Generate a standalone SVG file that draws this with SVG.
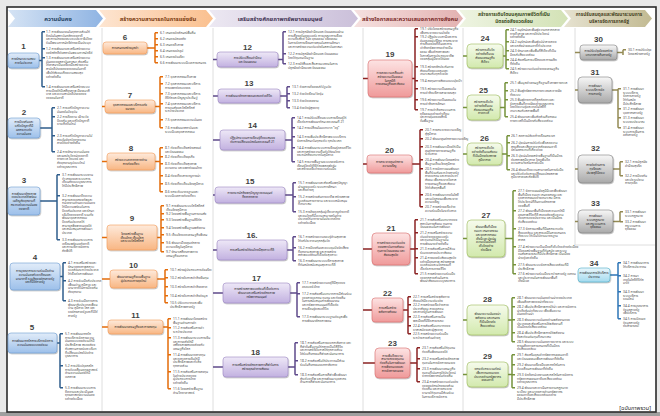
<svg xmlns="http://www.w3.org/2000/svg" width="660" height="416" viewBox="0 0 660 416">
<defs>
<style>
text{font-family:"Noto Sans Thai","Noto Sans","DejaVu Sans","Liberation Sans",sans-serif}
.hd{font-size:5.8px;font-weight:bold;text-anchor:middle}
.hd2{font-size:4.8px;font-weight:bold;text-anchor:middle}
.num{font-family:"Liberation Sans",sans-serif;font-size:8px;font-weight:bold;fill:#3f3f3f;text-anchor:middle}
.nl{font-size:3.2px;fill:#1e1e1e;text-anchor:middle}
.lf{font-size:3.3px;fill:#4d4d4d}
.box{stroke-width:0.6;filter:url(#sh)}
.b1{fill:url(#g1);stroke:#6c9bd2}
.b2{fill:url(#g2);stroke:#f39a57}
.b3{fill:url(#g3);stroke:#9b87c2}
.b4{fill:url(#g4);stroke:#d96b6b}
.b5{fill:url(#g5);stroke:#9bbb59}
.b6{fill:url(#g6);stroke:#7f7f7f}
.b7{fill:url(#g7);stroke:#4bacc6}
.k{fill:none;stroke-width:1.5}
.k1{stroke:#2f5d8c}
.k2{stroke:#e46c0a}
.k3{stroke:#5f4b8b}
.k4{stroke:#8b2323}
.k5{stroke:#76923c}
.k6{stroke:#948a54}
.k7{stroke:#2e75b6}
.sep{stroke:#d6d6d6;stroke-width:0.8;fill:none}
</style>
<filter id="sh" x="-20%" y="-20%" width="140%" height="150%"><feDropShadow dx="0.6" dy="0.9" stdDeviation="0.6" flood-color="#000" flood-opacity="0.3"/></filter>
<linearGradient id="g1" x1="0" y1="0" x2="0" y2="1"><stop offset="0" stop-color="#e1ecf9"/><stop offset="1" stop-color="#9dc0ea"/></linearGradient>
<linearGradient id="g2" x1="0" y1="0" x2="0" y2="1"><stop offset="0" stop-color="#feeadb"/><stop offset="1" stop-color="#f8b683"/></linearGradient>
<linearGradient id="g3" x1="0" y1="0" x2="0" y2="1"><stop offset="0" stop-color="#eee8f7"/><stop offset="1" stop-color="#c2b1e0"/></linearGradient>
<linearGradient id="g4" x1="0" y1="0" x2="0" y2="1"><stop offset="0" stop-color="#fde3e3"/><stop offset="1" stop-color="#ef9a9a"/></linearGradient>
<linearGradient id="g5" x1="0" y1="0" x2="0" y2="1"><stop offset="0" stop-color="#f6fbec"/><stop offset="1" stop-color="#d2e9ad"/></linearGradient>
<linearGradient id="g6" x1="0" y1="0" x2="0" y2="1"><stop offset="0" stop-color="#f7f7f7"/><stop offset="1" stop-color="#a9a9a9"/></linearGradient>
<linearGradient id="g7" x1="0" y1="0" x2="0" y2="1"><stop offset="0" stop-color="#eaf7fc"/><stop offset="1" stop-color="#a3daee"/></linearGradient>
<linearGradient id="h1" x1="0" y1="0" x2="1" y2="0"><stop offset="0" stop-color="#d5e3f4"/><stop offset="1" stop-color="#8fb4e3"/></linearGradient>
<linearGradient id="h2" x1="0" y1="0" x2="1" y2="0"><stop offset="0" stop-color="#fde5d1"/><stop offset="1" stop-color="#fac08f"/></linearGradient>
<linearGradient id="h3" x1="0" y1="0" x2="1" y2="0"><stop offset="0" stop-color="#ece8f2"/><stop offset="1" stop-color="#cbc0da"/></linearGradient>
<linearGradient id="h4" x1="0" y1="0" x2="1" y2="0"><stop offset="0" stop-color="#f5e0df"/><stop offset="1" stop-color="#e3b2b1"/></linearGradient>
<linearGradient id="h5" x1="0" y1="0" x2="1" y2="0"><stop offset="0" stop-color="#eef4e2"/><stop offset="1" stop-color="#d3e2b6"/></linearGradient>
<linearGradient id="h6" x1="0" y1="0" x2="1" y2="0"><stop offset="0" stop-color="#e6e2d0"/><stop offset="1" stop-color="#c2ba92"/></linearGradient>
</defs>

<rect x="0" y="0" width="660" height="416" fill="#e9e9e9"/>
<rect x="0" y="412" width="660" height="4" fill="#9f9f9f"/>
<rect x="7" y="7" width="649" height="405" fill="#ffffff" stroke="#2b2b2b" stroke-width="1.6"/>

<g id="headers">
<polygon points="8,10 96,10 103,18.5 96,27 8,27 15,18.5" fill="url(#h1)"/>
<polygon points="99,10 206,10 213,18.5 206,27 99,27 106,18.5" fill="url(#h2)"/>
<polygon points="209,10 351,10 358,18.5 351,27 209,27 216,18.5" fill="url(#h3)"/>
<polygon points="354,10 456,10 463,18.5 456,27 354,27 361,18.5" fill="url(#h4)"/>
<polygon points="459,10 561,10 568,18.5 561,27 459,27 466,18.5" fill="url(#h5)"/>
<polygon points="564,10 645,10 652,18.5 645,27 564,27 571,18.5" fill="url(#h6)"/>
<text class="hd" x="58" y="20.5" fill="#243f60">ความมั่นคง</text>
<text class="hd" x="158" y="20.5" fill="#7a3b10">สร้างความสามารถในการแข่งขัน</text>
<text class="hd" x="280" y="20.5" fill="#403152">เสริมสร้างศักยภาพทรัพยากรมนุษย์</text>
<text class="hd" x="410" y="20.5" fill="#7b2c2a">สร้างโอกาสและความเสมอภาคทางสังคม</text>
<text class="hd2" x="514" y="16.3" fill="#3c4d1f">สร้างการเติบโตบนคุณภาพชีวิตที่เป็น<tspan x="514" dy="7">มิตรต่อสิ่งแวดล้อม</tspan></text>
<text class="hd2" x="609" y="16.3" fill="#4a4526">การปรับสมดุลและพัฒนาระบบการ<tspan x="609" dy="7">บริหารจัดการภาครัฐ</tspan></text>
</g>

<g id="separators">
<path class="sep" d="M102 28V411 M213 28V411 M363 28V411 M463 28V411 M575 28V245H655"/>
</g>

<g id="connectors">
<path class="k k1" d="M39 60.5H42 M42 31.8V86.8 M42 31.8h3 M42 48.8h3 M42 57.8h3 M42 86.8h3"/>
<path class="k k1" d="M40 128H52 M52 107.8V151.8 M52 107.8h3 M52 116.8h3 M52 135.8h3 M52 151.8h3"/>
<path class="k k1" d="M40 201H57 M57 174.8V239.8 M57 174.8h3 M57 195.8h3 M57 239.8h3"/>
<path class="k k1" d="M60 276.5H63 M63 262.8V300.8 M63 262.8h3 M63 280.8h3 M63 300.8h3"/>
<path class="k k1" d="M57 343H60 M60 333.8V387.8 M60 333.8h3 M60 365.8h3 M60 387.8h3"/>

<path class="k k2" d="M147 48H155 M155 32.8V62.8 M155 32.8h3 M155 38.8h3 M155 44.8h3 M155 50.8h3 M155 56.8h3 M155 62.8h3"/>
<path class="k k2" d="M102 106.5H105 M155 106.5H160 M160 76.8V127.8 M160 76.8h3 M160 83.8h3 M160 93.8h3 M160 103.8h3 M160 119.8h3 M160 127.8h3"/>
<path class="k k2" d="M102 161.5H107 M155 161.5H160 M160 147.8V191.8 M160 147.8h3 M160 156.8h3 M160 163.8h3 M160 175.8h3 M160 183.8h3 M160 191.8h3"/>
<path class="k k2" d="M102 237.5H107 M157 237.5H161 M161 205.8V251.8 M161 205.8h3 M161 213.8h3 M161 219.8h3 M161 227.8h3 M161 234.8h3 M161 242.8h3 M161 251.8h3"/>
<path class="k k2" d="M102 279H110 M157 279H165 M165 269.8V302.8 M165 269.8h3 M165 277.8h3 M165 286.8h3 M165 295.8h3 M165 302.8h3"/>
<path class="k k2" d="M102 327H108 M163 327H168 M168 318.8V388.8 M168 318.8h3 M168 327.8h3 M168 337.8h3 M168 354.8h3 M168 371.8h3 M168 388.8h3"/>

<path class="k k3" d="M213 59.5H217 M278 59.5H283 M283 31.8V63.8 M283 31.8h3 M283 53.8h3 M283 63.8h3"/>
<path class="k k3" d="M213 96H218 M280 96H287 M287 86.8V107.8 M287 86.8h3 M287 93.8h3 M287 100.8h3 M287 107.8h3"/>
<path class="k k3" d="M213 140H220 M285 140H292 M292 117.8V161.8 M292 117.8h3 M292 127.8h3 M292 136.8h3 M292 147.8h3 M292 161.8h3"/>
<path class="k k3" d="M213 195H215 M285 195H293 M293 182.8V211.8 M293 182.8h3 M293 196.8h3 M293 211.8h3"/>
<path class="k k3" d="M213 250H217 M287 250H293 M293 236.8V260.8 M293 236.8h3 M293 247.8h3 M293 260.8h3"/>
<path class="k k3" d="M213 293H223 M290 293H297 M297 282.8V316.8 M297 282.8h3 M297 293.8h3 M297 316.8h3"/>
<path class="k k3" d="M213 367H223 M288 367H295 M295 342.8V374.8 M295 342.8h3 M295 360.8h3 M295 374.8h3"/>

<path class="k k4" d="M363 78.5H368 M412 78.5H415 M415 28.8V109.8 M415 28.8h3 M415 36.8h3 M415 66.8h3 M415 80.8h3 M415 88.8h3 M415 99.8h3 M415 109.8h3"/>
<path class="k k4" d="M363 164H367 M412 164H420 M420 129.8V206.8 M420 129.8h3 M420 138.8h3 M420 146.8h3 M420 159.8h3 M420 168.8h3 M420 194.8h3 M420 206.8h3"/>
<path class="k k4" d="M363 249H372 M410 249H415 M415 219.8V273.8 M415 219.8h3 M415 232.8h3 M415 248.8h3 M415 257.8h3 M415 273.8h3"/>
<path class="k k4" d="M363 310H372 M403 310H408 M408 296.8V333.8 M408 296.8h3 M408 304.8h3 M408 316.8h3 M408 325.8h3 M408 333.8h3"/>
<path class="k k4" d="M363 363H375 M410 363H417 M417 347.8V381.8 M417 347.8h3 M417 358.8h3 M417 368.8h3 M417 381.8h3"/>

<path class="k k5" d="M463 56H467 M503 56H506 M506 29.8V68.8 M506 29.8h3 M506 41.8h3 M506 50.8h3 M506 59.8h3 M506 68.8h3"/>
<path class="k k5" d="M463 107.5H467 M500 107.5H505 M505 82.8V116.8 M505 82.8h3 M505 90.8h3 M505 99.8h3 M505 116.8h3"/>
<path class="k k5" d="M463 154H467 M502 154H507 M507 135.8V169.8 M507 135.8h3 M507 142.8h3 M507 155.8h3 M507 169.8h3"/>
<path class="k k5" d="M463 238.5H467 M505 238.5H513 M513 190.8V273.8 M513 190.8h3 M513 210.8h3 M513 228.8h3 M513 246.8h3 M513 264.8h3 M513 273.8h3"/>
<path class="k k5" d="M463 320H467 M508 320H512 M512 297.8V341.8 M512 297.8h3 M512 306.8h3 M512 319.8h3 M512 332.8h3 M512 341.8h3"/>
<path class="k k5" d="M463 374.5H467 M508 374.5H512 M512 354.8V387.8 M512 354.8h3 M512 364.8h3 M512 374.8h3 M512 387.8h3"/>

<path class="k k6" d="M575 52.5H580 M617 52.5H623 M623 49.8V55 M623 49.8h3"/>
<path class="k k6" d="M575 90H578 M612 90H618 M618 88.8V127.8 M618 88.8h3 M618 108.8h3 M618 117.8h3 M618 127.8h3"/>
<path class="k k6" d="M575 169H578 M613 169H620 M620 161.8V175.8 M620 161.8h3 M620 175.8h3"/>
<path class="k k6" d="M575 221.5H578 M613 221.5H620 M620 211.8V221.8 M620 211.8h3 M620 221.8h3"/>
<path class="k k7" d="M610 275H618 M618 262.8V318.8 M618 262.8h3 M618 275.8h3 M618 291.8h3 M618 305.8h3 M618 318.8h3"/>
</g>

<g id="n1">
<text class="num" x="23.5" y="49">1</text>
<rect class="box b1" x="8" y="53" width="31" height="15" rx="3"/>
<text class="nl" x="23.5" y="59.7">การรักษาความสงบ<tspan x="23.5" dy="3.8">ภายในประเทศ</tspan></text>
<text class="lf" x="46" y="33">1.1 การพัฒนาคนในทุกภาคส่วนให้<tspan x="46" dy="3.7">ยึดมั่นในสถาบันหลักของชาติ</tspan><tspan x="46" dy="3.7">และการปกครองระบอบประชาธิปไตย</tspan><tspan x="46" dy="3.7">อันมีพระมหากษัตริย์ทรงเป็นประมุข</tspan></text>
<text class="lf" x="46" y="50">1.2 การพัฒนาและเสริมสร้างความ<tspan x="46" dy="3.7">จงรักภักดีต่อสถาบันพระมหากษัตริย์</tspan></text>
<text class="lf" x="46" y="59">1.3 การพัฒนาและเสริมสร้างความ<tspan x="46" dy="3.7">มั่นคงของสถาบันศาสนา ส่งเสริม</tspan><tspan x="46" dy="3.7">ให้ศาสนาเป็นเครื่องมือสร้างความ</tspan><tspan x="46" dy="3.7">สามัคคีปรองดองของคนในชาติ</tspan><tspan x="46" dy="3.7">เพื่อให้สังคมเกิดความสงบสุข</tspan><tspan x="46" dy="3.7">อย่างยั่งยืน</tspan></text>
<text class="lf" x="46" y="88">1.4 การพัฒนาและเสริมสร้างระบบ<tspan x="46" dy="3.7">การเมืองให้มีเสถียรภาพ มีธรรมาภิ</tspan><tspan x="46" dy="3.7">บาล และความสามัคคีปรองดอง</tspan><tspan x="46" dy="3.7">ของคนในชาติ</tspan></text>
</g>

<g id="n2">
<text class="num" x="24" y="115">2</text>
<rect class="box b1" x="8" y="118" width="32" height="20" rx="3"/>
<text class="nl" x="24" y="123.4">การป้องกันและ<tspan x="24" dy="3.8">แก้ไขปัญหาที่มี</tspan><tspan x="24" dy="3.8">ผลกระทบต่อ</tspan><tspan x="24" dy="3.8">ความมั่นคง</tspan></text>
<text class="lf" x="57" y="109">2.1 การแก้ไขปัญหาความ<tspan x="57" dy="3.7">มั่นคงในปัจจุบัน</tspan></text>
<text class="lf" x="57" y="118">2.2 การติดตาม เฝ้าระวัง<tspan x="57" dy="3.7">ป้องกัน และแก้ไขปัญหาที่</tspan><tspan x="57" dy="3.7">อาจเกิดขึ้นใหม่</tspan></text>
<text class="lf" x="57" y="137">2.3 การแก้ไขปัญหาความไม่<tspan x="57" dy="3.7">สงบในจังหวัดชายแดน</tspan><tspan x="57" dy="3.7">ภาคใต้อย่างยั่งยืน</tspan></text>
<text class="lf" x="57" y="153">2.4 การรักษาความมั่นคง<tspan x="57" dy="3.7">และผลประโยชน์ของชาติ</tspan><tspan x="57" dy="3.7">ทางทะเล ไซเบอร์ และ</tspan><tspan x="57" dy="3.7">ภัยคุกคามรูปแบบใหม่</tspan><tspan x="57" dy="3.7">อย่างบูรณาการ</tspan></text>
</g>

<g id="n3">
<text class="num" x="24" y="183">3</text>
<rect class="box b1" x="8" y="187" width="32" height="28" rx="3"/>
<text class="nl" x="24" y="194.5">การพัฒนาศักยภาพ<tspan x="24" dy="3.8">ของประเทศให้พร้อม</tspan><tspan x="24" dy="3.8">เผชิญภัยคุกคามที่</tspan><tspan x="24" dy="3.8">กระทบต่อความมั่นคง</tspan><tspan x="24" dy="3.8">ของชาติ</tspan></text>
<text class="lf" x="62" y="176">3.1 การพัฒนาระบบงาน<tspan x="62" dy="3.7">ข่าวกรองและระบบการ</tspan><tspan x="62" dy="3.7">เตือนภัยแบบบูรณาการ</tspan><tspan x="62" dy="3.7">ให้มีประสิทธิภาพ</tspan></text>
<text class="lf" x="62" y="197">3.2 การพัฒนาขีดความ<tspan x="62" dy="3.7">สามารถของกองทัพและ</tspan><tspan x="62" dy="3.7">หน่วยงานด้านความมั่นคง</tspan><tspan x="62" dy="3.7">ให้มีความพร้อมในการ</tspan><tspan x="62" dy="3.7">ป้องกันประเทศ และรักษา</tspan><tspan x="62" dy="3.7">อธิปไตยของชาติ รวมทั้ง</tspan><tspan x="62" dy="3.7">พัฒนาอุตสาหกรรม</tspan><tspan x="62" dy="3.7">ป้องกันประเทศให้</tspan><tspan x="62" dy="3.7">สามารถพึ่งพาตนเองได้</tspan><tspan x="62" dy="3.7">และสนับสนุนการพัฒนา</tspan><tspan x="62" dy="3.7">ประเทศ</tspan></text>
<text class="lf" x="62" y="241">3.3 การพัฒนาระบบการ<tspan x="62" dy="3.7">เตรียมพร้อมแห่งชาติ</tspan><tspan x="62" dy="3.7">และการบริหารจัดการ</tspan><tspan x="62" dy="3.7">ภัยพิบัติ</tspan></text>
</g>

<g id="n4">
<text class="num" x="35" y="260">4</text>
<rect class="box b1" x="10" y="263" width="50" height="27" rx="3"/>
<text class="nl" x="35" y="271.9">การบูรณาการความร่วมมือด้าน<tspan x="35" dy="3.8">ความมั่นคงกับอาเซียนและ</tspan><tspan x="35" dy="3.8">นานาชาติ รวมถึงองค์กรภาครัฐ</tspan><tspan x="35" dy="3.8">และที่มิใช่ภาครัฐ</tspan></text>
<text class="lf" x="68" y="264">4.1 การเสริมสร้างและ<tspan x="68" dy="3.7">รักษาดุลยภาพสภาวะ</tspan><tspan x="68" dy="3.7">แวดล้อมระหว่างประเทศ</tspan><tspan x="68" dy="3.7">ให้เอื้อต่อการพัฒนา</tspan></text>
<text class="lf" x="68" y="282">4.2 การร่วมมือกับประเทศ<tspan x="68" dy="3.7">เพื่อนบ้าน ภูมิภาค และ</tspan><tspan x="68" dy="3.7">นานาชาติในการป้องกัน</tspan><tspan x="68" dy="3.7">ภัยคุกคาม</tspan></text>
<text class="lf" x="68" y="302">4.3 การร่วมมือทางการ<tspan x="68" dy="3.7">พัฒนากับประเทศเพื่อน</tspan><tspan x="68" dy="3.7">บ้าน ภูมิภาค โลก และ</tspan><tspan x="68" dy="3.7">องค์กรภาครัฐและที่มิใช่</tspan><tspan x="68" dy="3.7">ภาครัฐ</tspan></text>
</g>

<g id="n5">
<text class="num" x="32" y="330">5</text>
<rect class="box b1" x="8" y="333" width="49" height="20" rx="3"/>
<text class="nl" x="32.5" y="342.2">การพัฒนากลไกการบริหารจัดการ<tspan x="32.5" dy="3.8">ความมั่นคงแบบองค์รวม</tspan></text>
<text class="lf" x="65" y="335">5.1 การพัฒนากลไก<tspan x="65" dy="3.7">การบริหารจัดการความ</tspan><tspan x="65" dy="3.7">มั่นคงแบบองค์รวมให้มี</tspan><tspan x="65" dy="3.7">ประสิทธิภาพ สอดคล้อง</tspan><tspan x="65" dy="3.7">กับสถานการณ์และบริบท</tspan><tspan x="65" dy="3.7">ที่เปลี่ยนแปลงไปอย่าง</tspan><tspan x="65" dy="3.7">บูรณาการ</tspan></text>
<text class="lf" x="65" y="367">5.2 การปรับปรุงกลไก<tspan x="65" dy="3.7">การขับเคลื่อนยุทธศาสตร์</tspan><tspan x="65" dy="3.7">ด้านความมั่นคงให้มี</tspan><tspan x="65" dy="3.7">เอกภาพ</tspan></text>
<text class="lf" x="65" y="389">5.3 การพัฒนาระบบการ<tspan x="65" dy="3.7">ติดตามและประเมินผล</tspan><tspan x="65" dy="3.7">ยุทธศาสตร์ความมั่นคง</tspan><tspan x="65" dy="3.7">อย่างต่อเนื่อง</tspan></text>
</g>

<g id="n6">
<text class="num" x="125" y="40">6</text>
<rect class="box b2" x="103" y="42" width="44" height="12" rx="3"/>
<text class="nl" x="125" y="49.1">การเกษตรสร้างมูลค่า</text>
<text class="lf" x="160" y="34">6.1 เกษตรอัตลักษณ์พื้นถิ่น</text>
<text class="lf" x="160" y="40">6.2 เกษตรปลอดภัย</text>
<text class="lf" x="160" y="46">6.3 เกษตรชีวภาพ</text>
<text class="lf" x="160" y="52">6.4 เกษตรแปรรูป</text>
<text class="lf" x="160" y="58">6.5 เกษตรอัจฉริยะ</text>
<text class="lf" x="160" y="64">6.6 การพัฒนาระบบนิเวศการเกษตร</text>
</g>

<g id="n7">
<text class="num" x="130" y="98">7</text>
<rect class="box b2" x="105" y="100" width="50" height="13" rx="3"/>
<text class="nl" x="130" y="105.7">อุตสาหกรรมและบริการแห่ง<tspan x="130" dy="3.8">อนาคต</tspan></text>
<text class="lf" x="165" y="78">7.1 อุตสาหกรรมชีวภาพ</text>
<text class="lf" x="165" y="85">7.2 อุตสาหกรรมและบริการ<tspan x="165" dy="3.7">การแพทย์ครบวงจร</tspan></text>
<text class="lf" x="165" y="95">7.3 อุตสาหกรรมและบริการ<tspan x="165" dy="3.7">ดิจิทัลและปัญญาประดิษฐ์</tspan></text>
<text class="lf" x="165" y="105">7.4 อุตสาหกรรมและบริการ<tspan x="165" dy="3.7">การขนส่งและโลจิสติกส์</tspan><tspan x="165" dy="3.7">ระหว่างประเทศ</tspan></text>
<text class="lf" x="165" y="121">7.5 อุตสาหกรรมความมั่นคง</text>
<text class="lf" x="165" y="129">7.6 การพัฒนาสถาบันและ<tspan x="165" dy="3.7">ระบบนิเวศอุตสาหกรรม</tspan></text>
</g>

<g id="n8">
<text class="num" x="131" y="151">8</text>
<rect class="box b2" x="107" y="153" width="48" height="17" rx="3"/>
<text class="nl" x="131" y="160.7">สร้างความหลากหลายด้าน<tspan x="131" dy="3.8">การท่องเที่ยว</tspan></text>
<text class="lf" x="165" y="149">8.1 ท่องเที่ยวเชิงสร้างสรรค์<tspan x="165" dy="3.7">และวัฒนธรรม</tspan></text>
<text class="lf" x="165" y="158">8.2 ท่องเที่ยวเชิงธุรกิจ</text>
<text class="lf" x="165" y="165">8.3 ท่องเที่ยวเชิงสุขภาพ<tspan x="165" dy="3.7">ความงาม และแพทย์แผนไทย</tspan></text>
<text class="lf" x="165" y="177">8.4 ท่องเที่ยวสำราญทางน้ำ</text>
<text class="lf" x="165" y="185">8.5 ท่องเที่ยวเชื่อมโยงภูมิภาค</text>
<text class="lf" x="165" y="193">8.6 ยกระดับมาตรฐานและ<tspan x="165" dy="3.7">ระบบนิเวศการท่องเที่ยว</tspan></text>
</g>

<g id="n9">
<text class="num" x="132" y="221">9</text>
<rect class="box b2" x="107" y="225" width="50" height="25" rx="3"/>
<text class="nl" x="132" y="234.8">โครงสร้างพื้นฐาน<tspan x="132" dy="3.8">เชื่อมไทย เชื่อมโลก</tspan><tspan x="132" dy="3.8">และระบบโลจิสติกส์</tspan></text>
<text class="lf" x="166" y="207">9.1 การพัฒนาระบบโลจิสติกส์<tspan x="166" dy="3.7">เชื่อมโยงภูมิภาค</tspan></text>
<text class="lf" x="166" y="215">9.2 โครงสร้างพื้นฐานการขนส่ง</text>
<text class="lf" x="166" y="221">9.3 โครงสร้างพื้นฐานดิจิทัล</text>
<text class="lf" x="166" y="229">9.4 โครงสร้างพื้นฐานพลังงาน</text>
<text class="lf" x="166" y="236">9.5 เชื่อมโยงเขตเศรษฐกิจพิเศษ</text>
<text class="lf" x="166" y="244">9.6 พัฒนาเมืองศูนย์กลาง<tspan x="166" dy="3.7">ความเจริญในภูมิภาค</tspan></text>
<text class="lf" x="166" y="253">9.7 รักษาเสถียรภาพทาง<tspan x="166" dy="3.7">เศรษฐกิจมหภาค</tspan></text>
</g>

<g id="n10">
<text class="num" x="133.5" y="268">10</text>
<rect class="box b2" x="110" y="270" width="47" height="18" rx="3"/>
<text class="nl" x="133.5" y="278.2">พัฒนาเศรษฐกิจบนพื้นฐาน<tspan x="133.5" dy="3.8">ผู้ประกอบการยุคใหม่</tspan></text>
<text class="lf" x="170" y="271">10.1 สร้างผู้ประกอบการอัจฉริยะ</text>
<text class="lf" x="170" y="279">10.2 สร้างโอกาสเข้าถึงเงินทุน</text>
<text class="lf" x="170" y="288">10.3 สร้างโอกาสเข้าถึงตลาด</text>
<text class="lf" x="170" y="297">10.4 สร้างโอกาสเข้าถึงข้อมูล</text>
<text class="lf" x="170" y="304">10.5 ปรับบทบาทและเพิ่ม<tspan x="170" dy="3.7">ประสิทธิภาพภาครัฐ</tspan></text>
</g>

<g id="n11">
<text class="num" x="135.5" y="318">11</text>
<rect class="box b2" x="108" y="320" width="55" height="14" rx="3"/>
<text class="nl" x="135.5" y="328.1">การพัฒนาเศรษฐกิจและการลงทุน</text>
<text class="lf" x="173" y="320">11.1 การพัฒนาโครงสร้าง<tspan x="173" dy="3.7">พื้นฐานด้านการค้า</tspan></text>
<text class="lf" x="173" y="329">11.2 การส่งเสริมการค้า<tspan x="173" dy="3.7">ระหว่างประเทศ</tspan></text>
<text class="lf" x="173" y="339">11.3 การพัฒนาระบบการเงิน<tspan x="173" dy="3.7">และการคลังให้มี</tspan><tspan x="173" dy="3.7">เสถียรภาพสอดคล้องกับ</tspan><tspan x="173" dy="3.7">เศรษฐกิจโลก</tspan></text>
<text class="lf" x="173" y="356">11.4 การพัฒนาตลาดทุน<tspan x="173" dy="3.7">และตลาดการเงินให้มี</tspan><tspan x="173" dy="3.7">ประสิทธิภาพและทั่วถึง</tspan><tspan x="173" dy="3.7">ทุกภาคส่วน</tspan></text>
<text class="lf" x="173" y="373">11.5 การส่งเสริมการลงทุน<tspan x="173" dy="3.7">ในต่างประเทศของ</tspan><tspan x="173" dy="3.7">ผู้ประกอบการไทย</tspan><tspan x="173" dy="3.7">อย่างยั่งยืน</tspan></text>
<text class="lf" x="173" y="390">11.6 โครงสร้างพื้นฐาน<tspan x="173" dy="3.7">ด้านวิทยาศาสตร์</tspan></text>
</g>

<g id="n12">
<text class="num" x="247.5" y="50">12</text>
<rect class="box b3" x="217" y="52" width="61" height="15" rx="3"/>
<text class="nl" x="247.5" y="58.7">การปรับเปลี่ยนค่านิยม<tspan x="247.5" dy="3.8">และวัฒนธรรม</tspan></text>
<text class="lf" x="288" y="33">12.1 การปลูกฝังค่านิยมและวัฒนธรรมผ่าน<tspan x="288" dy="3.7">การเลี้ยงดูในครอบครัว การบูรณาการเรื่อง</tspan><tspan x="288" dy="3.7">ความซื่อสัตย์ วินัย คุณธรรม จริยธรรม</tspan><tspan x="288" dy="3.7">ในการจัดการเรียนการสอนในสถานศึกษา</tspan><tspan x="288" dy="3.7">และการสร้างความเข้มแข็งในสถาบันศาสนา</tspan></text>
<text class="lf" x="288" y="55">12.2 การปลูกฝังค่านิยมและวัฒนธรรม<tspan x="288" dy="3.7">โดยใช้ชุมชนเป็นฐาน</tspan></text>
<text class="lf" x="288" y="65">12.3 การใช้สื่อและสื่อสารมวลชนในการ<tspan x="288" dy="3.7">ปลูกฝังค่านิยมและวัฒนธรรม</tspan></text>
</g>

<g id="n13">
<text class="num" x="249" y="86">13</text>
<rect class="box b3" x="218" y="89" width="62" height="14" rx="3"/>
<text class="nl" x="249" y="97.1">การพัฒนาศักยภาพคนตลอดช่วงชีวิต</text>
<text class="lf" x="292" y="88">13.1 ช่วงการตั้งครรภ์/ปฐมวัย</text>
<text class="lf" x="292" y="95">13.2 ช่วงวัยเรียน/วัยรุ่น</text>
<text class="lf" x="292" y="102">13.3 ช่วงวัยแรงงาน</text>
<text class="lf" x="292" y="109">13.4 ช่วงวัยผู้สูงอายุ</text>
</g>

<g id="n14">
<text class="num" x="252.5" y="128">14</text>
<rect class="box b3" x="220" y="130" width="65" height="20" rx="3"/>
<text class="nl" x="252.5" y="139.2">ปฏิรูปกระบวนการเรียนรู้ที่ตอบสนอง<tspan x="252.5" dy="3.8">ต่อการเปลี่ยนแปลงในศตวรรษที่ 21</tspan></text>
<text class="lf" x="297" y="119">14.1 การปรับเปลี่ยนระบบการเรียนรู้ให้<tspan x="297" dy="3.7">เอื้อต่อการพัฒนาทักษะศตวรรษที่ 21</tspan></text>
<text class="lf" x="297" y="129">14.2 การเปลี่ยนโฉมบทบาท “ครู”</text>
<text class="lf" x="297" y="138">14.3 การเพิ่มประสิทธิภาพระบบบริหาร<tspan x="297" dy="3.7">จัดการศึกษาในทุกระดับ ทุกประเภท</tspan></text>
<text class="lf" x="297" y="149">14.4 การพัฒนาระบบการเรียนรู้ตลอดชีวิต<tspan x="297" dy="3.7">และการสร้างความตื่นตัวให้คนไทย</tspan><tspan x="297" dy="3.7">ตระหนักถึงบทบาทในภูมิภาค</tspan></text>
<text class="lf" x="297" y="163">14.5 การวางพื้นฐานระบบรองรับการ<tspan x="297" dy="3.7">เรียนรู้โดยใช้ดิจิทัลแพลตฟอร์ม</tspan><tspan x="297" dy="3.7">และสร้างเครือข่ายความร่วมมือ</tspan></text>
</g>

<g id="n15">
<text class="num" x="250" y="184">15</text>
<rect class="box b3" x="215" y="187" width="70" height="16" rx="3"/>
<text class="nl" x="250" y="194.2">การตระหนักถึงพหุปัญญาของมนุษย์<tspan x="250" dy="3.8">ที่หลากหลาย</tspan></text>
<text class="lf" x="298" y="184">15.1 การพัฒนาและส่งเสริมพหุปัญญา<tspan x="298" dy="3.7">ผ่านครอบครัว ระบบการศึกษา</tspan><tspan x="298" dy="3.7">และสื่อต่างๆ</tspan></text>
<text class="lf" x="298" y="198">15.2 การสร้างเส้นทางอาชีพ สร้างสภาพ<tspan x="298" dy="3.7">แวดล้อมการทำงาน และระบบสนับสนุน</tspan><tspan x="298" dy="3.7">ที่เหมาะสม</tspan></text>
<text class="lf" x="298" y="213">15.3 การดึงดูดกลุ่มผู้เชี่ยวชาญต่างชาติ<tspan x="298" dy="3.7">และคนไทยที่มีความสามารถในต่าง</tspan><tspan x="298" dy="3.7">ประเทศให้มาทำงานในประเทศไทย</tspan><tspan x="298" dy="3.7">อย่างต่อเนื่อง</tspan></text>
</g>

<g id="n16">
<text class="num" x="252" y="238">16.</text>
<rect class="box b3" x="217" y="240" width="70" height="20" rx="3"/>
<text class="nl" x="252" y="251.1">การเสริมสร้างให้คนไทยมีสุขภาวะที่ดี</text>
<text class="lf" x="298" y="238">16.1 การสร้างความรอบรู้ด้านสุขภาพ<tspan x="298" dy="3.7">ให้แก่ประชาชนทุกกลุ่มวัย</tspan></text>
<text class="lf" x="298" y="249">16.2 การป้องกันและควบคุมปัจจัยเสี่ยง<tspan x="298" dy="3.7">ที่คุกคามสุขภาพ และการสร้าง</tspan><tspan x="298" dy="3.7">สภาพแวดล้อมที่เอื้อต่อสุขภาวะ</tspan></text>
<text class="lf" x="298" y="262">16.3 การพัฒนาระบบบริการสุขภาพ<tspan x="298" dy="3.7">ที่ทันสมัยสนับสนุนสุขภาวะที่ดี</tspan></text>
</g>

<g id="n17">
<text class="num" x="256.5" y="281">17</text>
<rect class="box b3" x="223" y="283" width="67" height="20" rx="3"/>
<text class="nl" x="256.5" y="290.3">การสร้างสภาพแวดล้อมที่เอื้อต่อการ<tspan x="256.5" dy="3.8">พัฒนาและเสริมสร้างศักยภาพ</tspan><tspan x="256.5" dy="3.8">ทรัพยากรมนุษย์</tspan></text>
<text class="lf" x="302" y="284">17.1 การสร้างความอยู่ดีมีสุขของ<tspan x="302" dy="3.7">ครอบครัวไทย</tspan></text>
<text class="lf" x="302" y="295">17.2 การส่งเสริมบทบาทการมีส่วนร่วม<tspan x="302" dy="3.7">ของภาคเอกชน ชุมชน และท้องถิ่น</tspan><tspan x="302" dy="3.7">ในการสนับสนุนการพัฒนาคน</tspan><tspan x="302" dy="3.7">และทรัพยากรมนุษย์ที่เอื้อต่อ</tspan><tspan x="302" dy="3.7">การเรียนรู้ตลอดชีวิต</tspan></text>
<text class="lf" x="302" y="318">17.3 การพัฒนาระบบฐานข้อมูลเพื่อ<tspan x="302" dy="3.7">การพัฒนาศักยภาพคน</tspan></text>
</g>

<g id="n18">
<text class="num" x="255.5" y="355">18</text>
<rect class="box b3" x="223" y="357" width="65" height="20" rx="3"/>
<text class="nl" x="255.5" y="366.2">การเสริมสร้างศักยภาพการกีฬาในการ<tspan x="255.5" dy="3.8">สร้างคุณค่าทางสังคม</tspan></text>
<text class="lf" x="300" y="344">18.1 การส่งเสริมการออกกำลังกาย และ<tspan x="300" dy="3.7">กีฬาขั้นพื้นฐานให้กลายเป็นวิถีชีวิต</tspan><tspan x="300" dy="3.7">และการสร้างโอกาสให้ทุกภาคส่วน</tspan><tspan x="300" dy="3.7">ได้ร่วมกิจกรรมกีฬาและนันทนาการ</tspan></text>
<text class="lf" x="300" y="362">18.2 การส่งเสริมให้ประชาชนมีส่วน<tspan x="300" dy="3.7">ร่วมในกิจกรรมออกกำลังกาย</tspan></text>
<text class="lf" x="300" y="376">18.3 การส่งเสริมการกีฬาเพื่อพัฒนา<tspan x="300" dy="3.7">สู่ระดับอาชีพ และการพัฒนาบุคลากร</tspan><tspan x="300" dy="3.7">ด้านการกีฬาและนันทนาการ</tspan></text>
</g>

<g id="n19">
<text class="num" x="390" y="57">19</text>
<rect class="box b4" x="368" y="60" width="44" height="37" rx="4"/>
<text class="nl" x="390" y="73.9">การลดความเหลื่อมล้ำ<tspan x="390" dy="3.8">สร้างความเป็นธรรม</tspan><tspan x="390" dy="3.8">ในทุกมิติ</tspan><tspan x="390" dy="3.8">ทางเศรษฐกิจและสังคม</tspan></text>
<text class="lf" x="420" y="30">19.1 ปรับโครงสร้างเศรษฐกิจ<tspan x="420" dy="3.7">เพื่อกระจายความมั่งคั่ง</tspan></text>
<text class="lf" x="420" y="38">19.2 ปฏิรูประบบภาษีและการ<tspan x="420" dy="3.7">คุ้มครองผู้บริโภค การกระจาย</tspan><tspan x="420" dy="3.7">การถือครองที่ดินและการ</tspan><tspan x="420" dy="3.7">เข้าถึงทรัพยากรอย่างเป็น</tspan><tspan x="420" dy="3.7">ธรรม เพิ่มศักยภาพและ</tspan><tspan x="420" dy="3.7">โอกาสในการประกอบอาชีพ</tspan><tspan x="420" dy="3.7">ของกลุ่มผู้มีรายได้น้อย</tspan></text>
<text class="lf" x="420" y="68">19.3 สร้างหลักประกันทาง<tspan x="420" dy="3.7">สังคมที่ครอบคลุมและ</tspan><tspan x="420" dy="3.7">เหมาะสมกับทุกช่วงวัย</tspan></text>
<text class="lf" x="420" y="82">19.4 ลงทุนทางสังคมแบบมุ่งเป้า</text>
<text class="lf" x="420" y="90">19.5 สร้างความเป็นธรรมใน<tspan x="420" dy="3.7">การเข้าถึงบริการสาธารณสุข</tspan></text>
<text class="lf" x="420" y="101">19.6 สร้างความเป็นธรรมใน<tspan x="420" dy="3.7">การเข้าถึงการศึกษา</tspan></text>
<text class="lf" x="420" y="111">19.7 การเข้าถึงกระบวนการ<tspan x="420" dy="3.7">ยุติธรรมอย่างเท่าเทียม</tspan><tspan x="420" dy="3.7">และการคุ้มครองสิทธิ</tspan><tspan x="420" dy="3.7">ขั้นพื้นฐาน</tspan></text>
</g>

<g id="n20">
<text class="num" x="389.5" y="153">20</text>
<rect class="box b4" x="367" y="155" width="45" height="18" rx="3"/>
<text class="nl" x="389.5" y="163.2">การกระจายศูนย์กลาง<tspan x="389.5" dy="3.8">ความเจริญ</tspan></text>
<text class="lf" x="425" y="131">20.1 การกระจายความเจริญ<tspan x="425" dy="3.7">สู่ภูมิภาค</tspan></text>
<text class="lf" x="425" y="140">20.2 พัฒนาศูนย์กลางความเจริญ</text>
<text class="lf" x="425" y="148">20.3 การพัฒนาเมืองให้เป็น<tspan x="425" dy="3.7">ศูนย์กลางทางเศรษฐกิจ</tspan><tspan x="425" dy="3.7">ระดับภาค</tspan></text>
<text class="lf" x="425" y="161">20.4 การพัฒนาโครงสร้าง<tspan x="425" dy="3.7">พื้นฐานเชื่อมโยงภูมิภาค</tspan></text>
<text class="lf" x="425" y="170">20.5 การจัดทำแผนพัฒนา<tspan x="425" dy="3.7">พื้นที่ร่วมกันระหว่างภาครัฐ</tspan><tspan x="425" dy="3.7">ภาคเอกชน และภาคประชา</tspan><tspan x="425" dy="3.7">สังคม เพื่อกระจายโอกาส</tspan><tspan x="425" dy="3.7">ทางเศรษฐกิจและสังคม</tspan><tspan x="425" dy="3.7">ให้ทั่วถึงทุกพื้นที่</tspan></text>
<text class="lf" x="425" y="196">20.6 การพัฒนาเทคโนโลยี<tspan x="425" dy="3.7">และนวัตกรรมเพื่อกระจาย</tspan><tspan x="425" dy="3.7">ความเจริญ</tspan></text>
<text class="lf" x="425" y="208">20.7 การสร้างเครือข่าย<tspan x="425" dy="3.7">ความร่วมมือในระดับภาค</tspan></text>
</g>

<g id="n21">
<text class="num" x="391" y="231">21</text>
<rect class="box b4" x="372" y="233" width="38" height="32" rx="4"/>
<text class="nl" x="391" y="244.4">การสร้างความเข้มแข็ง<tspan x="391" dy="3.8">ของสถาบันทางสังคม</tspan><tspan x="391" dy="3.8">ทุนทางวัฒนธรรม และ</tspan><tspan x="391" dy="3.8">สังคมสูงวัย</tspan></text>
<text class="lf" x="420" y="221">21.1 การส่งเสริมบทบาทของ<tspan x="420" dy="3.7">สถาบันทางสังคม ทุนทาง</tspan><tspan x="420" dy="3.7">วัฒนธรรมในการพัฒนา</tspan></text>
<text class="lf" x="420" y="234">21.2 การเสริมสร้างความ<tspan x="420" dy="3.7">เข้มแข็งของครอบครัว</tspan><tspan x="420" dy="3.7">และชุมชนให้เป็นฐานใน</tspan><tspan x="420" dy="3.7">การพัฒนาอย่างยั่งยืน</tspan></text>
<text class="lf" x="420" y="250">21.3 การส่งเสริมการมีส่วน<tspan x="420" dy="3.7">ร่วมของภาคประชาสังคม</tspan></text>
<text class="lf" x="420" y="259">21.4 การรองรับสังคมสูงวัย<tspan x="420" dy="3.7">อย่างมีคุณภาพ สร้างสภาพ</tspan><tspan x="420" dy="3.7">แวดล้อมและนวัตกรรมที่</tspan><tspan x="420" dy="3.7">เอื้อต่อการดำรงชีวิต</tspan></text>
<text class="lf" x="420" y="275">21.5 การสร้างความร่วมมือ<tspan x="420" dy="3.7">ของทุกภาคส่วนในการ</tspan><tspan x="420" dy="3.7">พัฒนาสังคมแบบบูรณาการ</tspan></text>
</g>

<g id="n22">
<text class="num" x="387.5" y="296">22</text>
<rect class="box b4" x="372" y="298" width="31" height="24" rx="3"/>
<text class="nl" x="387.5" y="309.2">การเสริมสร้าง<tspan x="387.5" dy="3.8">พลังทางสังคม</tspan></text>
<text class="lf" x="413" y="298">22.1 การเสริมสร้างพลังทาง<tspan x="413" dy="3.7">สังคมให้มีความเข้มแข็ง</tspan></text>
<text class="lf" x="413" y="306">22.2 การสร้างเครือข่ายภาค<tspan x="413" dy="3.7">ประชาสังคม ภาคเอกชน</tspan><tspan x="413" dy="3.7">และภาครัฐในการพัฒนา</tspan></text>
<text class="lf" x="413" y="318">22.3 การส่งเสริมการเป็น<tspan x="413" dy="3.7">พลเมืองที่มีจิตสาธารณะ</tspan></text>
<text class="lf" x="413" y="327">22.4 การส่งเสริมบทบาทของ<tspan x="413" dy="3.7">อาสาสมัครและผู้สูงอายุ</tspan></text>
<text class="lf" x="413" y="335">22.5 การสร้างความร่วมมือ<tspan x="413" dy="3.7">ระหว่างภาคส่วนต่างๆ</tspan></text>
</g>

<g id="n23">
<text class="num" x="392.5" y="346">23</text>
<rect class="box b4" x="375" y="348" width="35" height="30" rx="4"/>
<text class="nl" x="392.5" y="356.5">การเพิ่มขีดความ<tspan x="392.5" dy="3.8">สามารถของชุมชน</tspan><tspan x="392.5" dy="3.8">ท้องถิ่นในการพัฒนา</tspan><tspan x="392.5" dy="3.8">การพึ่งตนเองและ</tspan><tspan x="392.5" dy="3.8">การจัดการตนเอง</tspan></text>
<text class="lf" x="422" y="349">23.1 การส่งเสริมให้ชุมชน<tspan x="422" dy="3.7">ท้องถิ่นพึ่งตนเองได้</tspan></text>
<text class="lf" x="422" y="360">23.2 การเสริมสร้างศักยภาพ<tspan x="422" dy="3.7">ชุมชนในการจัดการตนเอง</tspan></text>
<text class="lf" x="422" y="370">23.3 การพัฒนาเศรษฐกิจ<tspan x="422" dy="3.7">ชุมชนที่เน้นการใช้ประโยชน์</tspan><tspan x="422" dy="3.7">จากทรัพยากรในท้องถิ่น</tspan></text>
<text class="lf" x="422" y="383">23.4 การสร้างความเข้มแข็ง<tspan x="422" dy="3.7">ขององค์กรปกครองส่วน</tspan><tspan x="422" dy="3.7">ท้องถิ่น และการกระจาย</tspan><tspan x="422" dy="3.7">อำนาจให้ชุมชนมีส่วนร่วม</tspan><tspan x="422" dy="3.7">ในการบริหารจัดการ</tspan></text>
</g>

<g id="n24">
<text class="num" x="485" y="41">24</text>
<rect class="box b5" x="467" y="44" width="36" height="24" rx="4"/>
<text class="nl" x="485" y="51.4">สร้างการเติบโต<tspan x="485" dy="3.8">อย่างยั่งยืนบน</tspan><tspan x="485" dy="3.8">สังคมเศรษฐกิจ</tspan><tspan x="485" dy="3.8">สีเขียว</tspan></text>
<text class="lf" x="510" y="31">24.1 อนุรักษ์และฟื้นฟูความหลากหลาย<tspan x="510" dy="3.7">ทางชีวภาพ และการใช้ประโยชน์</tspan><tspan x="510" dy="3.7">อย่างยั่งยืน</tspan></text>
<text class="lf" x="510" y="43">24.2 อนุรักษ์และฟื้นฟูแม่น้ำลำคลอง<tspan x="510" dy="3.7">และแหล่งน้ำธรรมชาติทั่วประเทศ</tspan></text>
<text class="lf" x="510" y="52">24.3 รักษาและเพิ่มพื้นที่สีเขียวที่เป็น<tspan x="510" dy="3.7">มิตรกับสิ่งแวดล้อม</tspan></text>
<text class="lf" x="510" y="61">24.4 ส่งเสริมการบริโภคและการผลิต<tspan x="510" dy="3.7">ที่ยั่งยืน</tspan></text>
<text class="lf" x="510" y="70">24.5 สร้างความเข้มแข็งของเศรษฐกิจ<tspan x="510" dy="3.7">สีเขียว</tspan></text>
</g>

<g id="n25">
<text class="num" x="483.5" y="93">25</text>
<rect class="box b5" x="467" y="95" width="33" height="25" rx="4"/>
<text class="nl" x="483.5" y="102.9">สร้างการเติบโต<tspan x="483.5" dy="3.8">อย่างยั่งยืนบน</tspan><tspan x="483.5" dy="3.8">สังคมเศรษฐกิจ</tspan><tspan x="483.5" dy="3.8">ภาคทะเล</tspan></text>
<text class="lf" x="510" y="84">25.1 เพิ่มมูลค่าเศรษฐกิจฐานชีวภาพทางทะเล</text>
<text class="lf" x="510" y="92">25.2 ฟื้นฟูทรัพยากรทางทะเลและชายฝั่ง<tspan x="510" dy="3.7">ทั้งระบบ</tspan></text>
<text class="lf" x="510" y="101">25.3 ฟื้นฟูชายหาดที่ถูกกัดเซาะและ<tspan x="510" dy="3.7">จัดการพื้นที่ชายฝั่งอย่างบูรณาการ</tspan><tspan x="510" dy="3.7">โดยใช้ความรู้และเทคโนโลยีที่</tspan><tspan x="510" dy="3.7">เหมาะสมกับสภาพพื้นที่</tspan></text>
<text class="lf" x="510" y="118">25.4 พัฒนาและเพิ่มสัดส่วนกิจกรรม<tspan x="510" dy="3.7">ทางทะเลที่เป็นมิตรกับสิ่งแวดล้อม</tspan></text>
</g>

<g id="n26">
<text class="num" x="484.5" y="141">26</text>
<rect class="box b5" x="467" y="143" width="35" height="22" rx="4"/>
<text class="nl" x="484.5" y="149.4">สร้างการเติบโต<tspan x="484.5" dy="3.8">อย่างยั่งยืนบนสังคม</tspan><tspan x="484.5" dy="3.8">ที่เป็นมิตรต่อสภาพ</tspan><tspan x="484.5" dy="3.8">ภูมิอากาศ</tspan></text>
<text class="lf" x="511" y="137">26.1 ลดการปล่อยก๊าซเรือนกระจก</text>
<text class="lf" x="511" y="144">26.2 มุ่งเน้นการปรับตัวเพื่อลดความ<tspan x="511" dy="3.7">สูญเสียและเสียหายจากภัยธรรมชาติ</tspan><tspan x="511" dy="3.7">และผลกระทบที่เกี่ยวข้อง</tspan></text>
<text class="lf" x="511" y="157">26.3 มุ่งเน้นโครงสร้างพื้นฐานที่เป็นมิตร<tspan x="511" dy="3.7">ต่อสภาพภูมิอากาศ โดยเพิ่มขีด</tspan><tspan x="511" dy="3.7">ความสามารถในการรับมือ</tspan></text>
<text class="lf" x="511" y="171">26.4 พัฒนาขีดความสามารถในการรับมือ<tspan x="511" dy="3.7">และปรับตัวต่อการเปลี่ยนแปลงสภาพ</tspan><tspan x="511" dy="3.7">ภูมิอากาศและภัยพิบัติ</tspan></text>
</g>

<g id="n27">
<text class="num" x="486" y="218">27</text>
<rect class="box b5" x="467" y="220" width="38" height="37" rx="4"/>
<text class="nl" x="486" y="228.2">พัฒนาพื้นที่เมือง<tspan x="486" dy="3.8">ชนบท เกษตรกรรม</tspan><tspan x="486" dy="3.8">และอุตสาหกรรม</tspan><tspan x="486" dy="3.8">เชิงนิเวศ มุ่งเน้น</tspan><tspan x="486" dy="3.8">ความเป็นเมืองที่</tspan><tspan x="486" dy="3.8">เติบโตอย่าง</tspan><tspan x="486" dy="3.8">ต่อเนื่อง</tspan></text>
<text class="lf" x="518" y="192">27.1 จัดทำแผนผังภูมินิเวศเพื่อพัฒนา<tspan x="518" dy="3.7">พื้นที่เมือง ชนบท เกษตรกรรม และ</tspan><tspan x="518" dy="3.7">อุตสาหกรรมอย่างเหมาะสม มีการ</tspan><tspan x="518" dy="3.7">ใช้ประโยชน์ที่ดินตามศักยภาพ</tspan><tspan x="518" dy="3.7">ของพื้นที่</tspan></text>
<text class="lf" x="518" y="212">27.2 พัฒนาพื้นที่เมืองและชนบทให้มี<tspan x="518" dy="3.7">คุณภาพชีวิตที่ดี สอดคล้องกับความ</tspan><tspan x="518" dy="3.7">ต้องการของประชาชน และเป็นมิตร</tspan><tspan x="518" dy="3.7">กับสิ่งแวดล้อม</tspan></text>
<text class="lf" x="518" y="230">27.3 จัดการมลพิษที่มีผลกระทบต่อ<tspan x="518" dy="3.7">สิ่งแวดล้อม และสารเคมีในภาคเกษตร</tspan><tspan x="518" dy="3.7">ทั้งระบบ ให้เป็นไปตามมาตรฐาน</tspan><tspan x="518" dy="3.7">สากล</tspan></text>
<text class="lf" x="518" y="248">27.4 สร้างความเป็นเมืองที่เติบโตอย่างต่อเนื่อง<tspan x="518" dy="3.7">มีโครงสร้างพื้นฐานที่ทันสมัย และระบบ</tspan><tspan x="518" dy="3.7">ขนส่งสาธารณะที่มีประสิทธิภาพ เป็นเมือง</tspan><tspan x="518" dy="3.7">น่าอยู่และยั่งยืน</tspan></text>
<text class="lf" x="518" y="266">27.5 พัฒนาระบบจัดการสิ่งแวดล้อมที่มี<tspan x="518" dy="3.7">ประสิทธิภาพ</tspan></text>
<text class="lf" x="518" y="275">27.6 สร้างความร่วมมือระหว่างภาครัฐ เอกชน<tspan x="518" dy="3.7">และประชาชนในการพัฒนาพื้นที่</tspan><tspan x="518" dy="3.7">เชิงนิเวศ</tspan></text>
</g>

<g id="n28">
<text class="num" x="487.5" y="302">28</text>
<rect class="box b5" x="467" y="305" width="41" height="30" rx="4"/>
<text class="nl" x="487.5" y="315.4">พัฒนาความมั่นคงน้ำ<tspan x="487.5" dy="3.8">พลังงาน และเกษตร</tspan><tspan x="487.5" dy="3.8">ที่เป็นมิตรต่อ</tspan><tspan x="487.5" dy="3.8">สิ่งแวดล้อม</tspan></text>
<text class="lf" x="517" y="299">28.1 พัฒนาความมั่นคงด้านน้ำของประเทศ<tspan x="517" dy="3.7">เพิ่มผลิตภาพของน้ำทั้งระบบ</tspan></text>
<text class="lf" x="517" y="308">28.2 เพิ่มประสิทธิภาพการใช้น้ำ และการจัดการ<tspan x="517" dy="3.7">น้ำเชิงลุ่มน้ำทั้งระบบ เพื่อเพิ่มความ</tspan><tspan x="517" dy="3.7">มั่นคงด้านน้ำ</tspan></text>
<text class="lf" x="517" y="321">28.3 พัฒนาความมั่นคงด้านพลังงานของ<tspan x="517" dy="3.7">ประเทศและส่งเสริมการใช้พลังงานที่</tspan><tspan x="517" dy="3.7">เป็นมิตรต่อสิ่งแวดล้อม</tspan></text>
<text class="lf" x="517" y="334">28.4 เพิ่มประสิทธิภาพการใช้พลังงาน<tspan x="517" dy="3.7">ซึ่งสะท้อนต้นทุนที่เหมาะสม</tspan></text>
<text class="lf" x="517" y="343">28.5 พัฒนาความมั่นคงทางอาหาร และระบบ<tspan x="517" dy="3.7">การผลิตทางการเกษตรที่เป็นมิตร</tspan><tspan x="517" dy="3.7">ต่อสิ่งแวดล้อม</tspan></text>
</g>

<g id="n29">
<text class="num" x="487.5" y="359">29</text>
<rect class="box b5" x="467" y="362" width="41" height="25" rx="4"/>
<text class="nl" x="487.5" y="369.9">ยกระดับกระบวนทัศน์<tspan x="487.5" dy="3.8">เพื่อกำหนดอนาคต</tspan><tspan x="487.5" dy="3.8">ประเทศด้านทรัพยากร</tspan><tspan x="487.5" dy="3.8">ธรรมชาติ</tspan></text>
<text class="lf" x="517" y="356">29.1 ส่งเสริมคุณค่าทรัพยากรธรรมชาติ<tspan x="517" dy="3.7">และวัฒนธรรมเพื่อการพัฒนาที่ยั่งยืน</tspan></text>
<text class="lf" x="517" y="366">29.2 พัฒนาเครื่องมือและกลไกในการ<tspan x="517" dy="3.7">ขับเคลื่อนการพัฒนาที่ยั่งยืน</tspan></text>
<text class="lf" x="517" y="376">29.3 จัดตั้งหน่วยงานและกลไกในการจัดการ<tspan x="517" dy="3.7">ทรัพยากรธรรมชาติและสิ่งแวดล้อม</tspan><tspan x="517" dy="3.7">อย่างบูรณาการ</tspan></text>
<text class="lf" x="517" y="389">29.4 พัฒนาและดำเนินการตามกฎหมาย<tspan x="517" dy="3.7">ระเบียบ และมาตรการด้านทรัพยากร</tspan><tspan x="517" dy="3.7">ธรรมชาติและสิ่งแวดล้อมอย่าง</tspan><tspan x="517" dy="3.7">มีประสิทธิภาพ</tspan></text>
</g>

<g id="n30">
<text class="num" x="598.5" y="42">30</text>
<rect class="box b6" x="580" y="45" width="37" height="15" rx="3"/>
<text class="nl" x="598.5" y="51.7">การปรับปรุงโครงสร้าง<tspan x="598.5" dy="3.8">บทบาทภารกิจภาครัฐ</tspan></text>
<text class="lf" x="628" y="51">30.1 การปรับปรุง<tspan x="628" dy="3.7">โครงสร้างภาครัฐ</tspan></text>
</g>

<g id="n31">
<text class="num" x="595" y="75">31</text>
<rect class="box b6" x="578" y="77" width="34" height="26" rx="4"/>
<text class="nl" x="595" y="87.3">การพัฒนา<tspan x="595" dy="3.8">ระบบบริหารจัด</tspan><tspan x="595" dy="3.8">การภาครัฐ</tspan></text>
<text class="lf" x="623" y="90">31.1 การพัฒนา<tspan x="623" dy="3.7">ระบบบริหาร</tspan><tspan x="623" dy="3.7">จัดการภาครัฐ</tspan><tspan x="623" dy="3.7">ให้ทันสมัย</tspan><tspan x="623" dy="3.7">มีประสิทธิภาพ</tspan></text>
<text class="lf" x="623" y="110">31.2 การพัฒนา<tspan x="623" dy="3.7">บุคลากรภาครัฐ</tspan></text>
<text class="lf" x="623" y="119">31.3 การพัฒนา<tspan x="623" dy="3.7">ระบบงบประมาณ</tspan></text>
<text class="lf" x="623" y="129">31.4 การพัฒนา<tspan x="623" dy="3.7">ระบบการเงินการ</tspan><tspan x="623" dy="3.7">คลังภาครัฐ</tspan></text>
</g>

<g id="n32">
<text class="num" x="595.5" y="151">32</text>
<rect class="box b6" x="578" y="155" width="35" height="28" rx="4"/>
<text class="nl" x="595.5" y="166.3">การต่อต้านการ<tspan x="595.5" dy="3.8">ทุจริตและ</tspan><tspan x="595.5" dy="3.8">ประพฤติมิชอบ</tspan></text>
<text class="lf" x="625" y="163">32.1 การปลูกฝัง<tspan x="625" dy="3.7">ค่านิยมสุจริต</tspan></text>
<text class="lf" x="625" y="177">32.2 การป้องกัน<tspan x="625" dy="3.7">และปราบปราม</tspan><tspan x="625" dy="3.7">การทุจริต</tspan></text>
</g>

<g id="n33">
<text class="num" x="595.5" y="206">33</text>
<rect class="box b6" x="578" y="210" width="35" height="23" rx="4"/>
<text class="nl" x="595.5" y="216.9">การพัฒนา<tspan x="595.5" dy="3.8">ระบบกฎหมาย</tspan><tspan x="595.5" dy="3.8">และกระบวนการ</tspan><tspan x="595.5" dy="3.8">ยุติธรรม</tspan></text>
<text class="lf" x="625" y="213">33.1 การพัฒนา<tspan x="625" dy="3.7">ระบบกฎหมาย</tspan></text>
<text class="lf" x="625" y="223">33.2 การพัฒนา<tspan x="625" dy="3.7">กระบวนการ</tspan><tspan x="625" dy="3.7">ยุติธรรม</tspan></text>
</g>

<g id="n34">
<text class="num" x="594" y="266">34</text>
<rect class="box b7" x="578" y="268" width="32" height="14" rx="3"/>
<text class="nl" x="594" y="274.2">การพัฒนาการให้บริการ<tspan x="594" dy="3.8">ประชาชน</tspan></text>
<text class="lf" x="623" y="264">34.1 การพัฒนาการ<tspan x="623" dy="3.7">ให้บริการประชาชน</tspan></text>
<text class="lf" x="623" y="277">34.2 การนำ<tspan x="623" dy="3.7">เทคโนโลยีดิจิทัล</tspan><tspan x="623" dy="3.7">มาใช้</tspan></text>
<text class="lf" x="623" y="293">34.3 การพัฒนา<tspan x="623" dy="3.7">ระบบบริการ</tspan><tspan x="623" dy="3.7">ออนไลน์</tspan></text>
<text class="lf" x="623" y="307">34.4 การบูรณาการ<tspan x="623" dy="3.7">ข้อมูลภาครัฐ</tspan><tspan x="623" dy="3.7">เพื่อบริการ</tspan></text>
<text class="lf" x="623" y="320">34.5 การเปิดเผย<tspan x="623" dy="3.7">ข้อมูลภาครัฐ</tspan><tspan x="623" dy="3.7">ต่อสาธารณะ</tspan></text>
</g>

<text x="651" y="410" font-size="5.5" fill="#1f1f1f" text-anchor="end">[ฉบับภาพรวม]</text>
</svg>
